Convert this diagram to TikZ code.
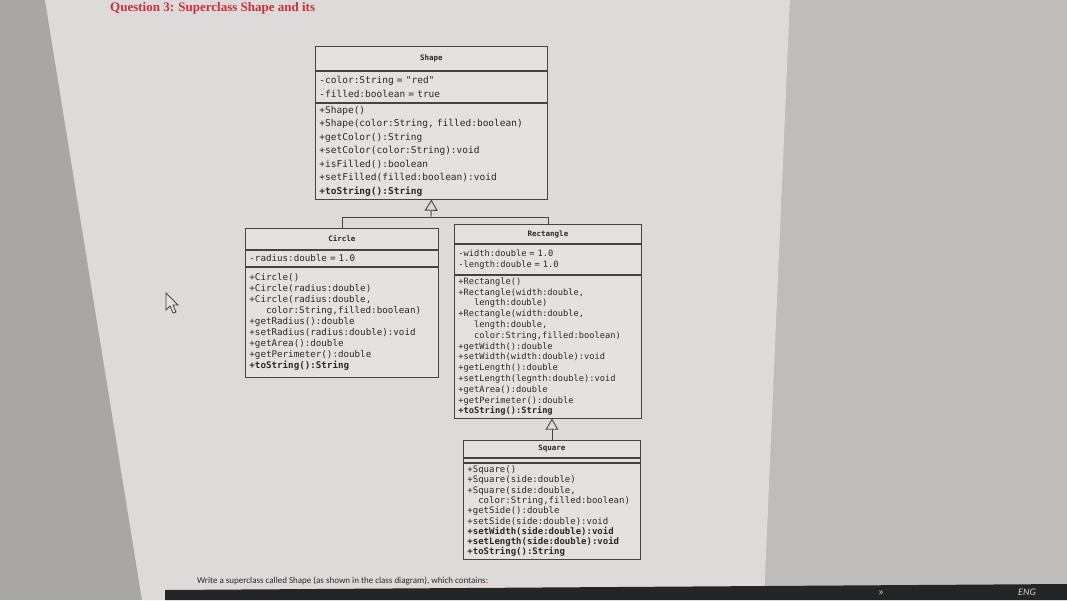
\documentclass[tikz,border=0pt]{standalone}
\usepackage{fontspec}
\setmainfont{Liberation Serif}
\newfontfamily\umlfont{DejaVu Sans Mono}
\newfontfamily\notefont{Carlito}
\usetikzlibrary{arrows.meta, positioning}

\definecolor{wallgray}{HTML}{A9A7A6}
\definecolor{pagegray}{HTML}{DEDAD9}
\definecolor{sidegray}{HTML}{BFBDBB}
\definecolor{barblack}{HTML}{232527}
\definecolor{umlline}{HTML}{454444}
\definecolor{umlfill}{HTML}{E4E1E0}
\definecolor{umltext}{HTML}{2A2828}
\definecolor{headred}{HTML}{C8303A}
\definecolor{bartext}{HTML}{CFCFCF}

% member fonts, one per class (the photo is slightly in perspective)
\newcommand{\shapefont}{\umlfont\fontsize{9.5}{13.5}\selectfont}
\newcommand{\circlefont}{\umlfont\fontsize{9.2}{11}\selectfont}
\newcommand{\rectfont}{\umlfont\fontsize{8.7}{10.8}\selectfont}
\newcommand{\squarefont}{\umlfont\fontsize{9}{10.3}\selectfont}

\tikzset{
  umlpart/.style={draw=umlline, fill=umlfill, line width=0.9pt, inner xsep=4pt, inner ysep=2pt, align=left, text=umltext},
  umltitle/.style={umlpart, align=center, font=\umlfont\bfseries\fontsize{7.5}{9}\selectfont},
  umlconn/.style={draw=umlline, line width=0.9pt},
  inherit/.style={umlconn, -{Triangle[open, length=11pt, width=13pt]}},
}

\begin{document}
\begin{tikzpicture}[x=1pt, y=-1pt]
\useasboundingbox (0,0) rectangle (1067,600);

% screen and page
\fill[wallgray] (0,0) rectangle (1067,600);
\fill[sidegray] (790,0) -- (1067,0) -- (1067,600) -- (762,600) -- cycle;
\fill[pagegray] (45,0) -- (790,0) -- (764,600) -- (142,600) -- cycle;

\node[anchor=base west, text=headred, font=\bfseries\fontsize{13}{15}\selectfont, inner sep=0pt] (heading) at (110,11) {Question 3: Superclass Shape and its};

% Shape
\node[umltitle, text width=224pt, minimum height=24pt, anchor=north west] (shape-title) at (315,46) {Shape};
\node[umlpart, text width=224pt, minimum height=31pt, below=0pt of shape-title, font=\shapefont] (shape-attr) {-color:String = "red"\\-filled:boolean = true};
\node[umlpart, text width=224pt, minimum height=96pt, below=0pt of shape-attr, font=\shapefont] (shape-ops) {+Shape()\\
+Shape(color:String, filled:boolean)\\
+getColor():String\\
+setColor(color:String):void\\
+isFilled():boolean\\
+setFilled(filled:boolean):void\\
\textbf{+toString():String}};

% Circle
\node[umltitle, text width=185pt, minimum height=21pt, anchor=north west] (circle-title) at (245,228) {Circle};
\node[umlpart, text width=185pt, minimum height=16pt, below=0pt of circle-title, font=\circlefont] (circle-attr) {-radius:double = 1.0};
\node[umlpart, text width=185pt, minimum height=110pt, below=0pt of circle-attr, font=\circlefont] (circle-ops) {+Circle()\\
+Circle(radius:double)\\
+Circle(radius:double,\\
\hspace*{1.8em}color:String,filled:boolean)\\
+getRadius():double\\
+setRadius(radius:double):void\\
+getArea():double\\
+getPerimeter():double\\
\textbf{+toString():String}};

% Rectangle
\node[umltitle, text width=179pt, minimum height=19pt, anchor=north west] (rect-title) at (454,224) {Rectangle};
\node[umlpart, text width=179pt, minimum height=30pt, below=0pt of rect-title, font=\rectfont] (rect-attr) {-width:double = 1.0\\-length:double = 1.0};
\node[umlpart, text width=179pt, minimum height=143pt, below=0pt of rect-attr, font=\rectfont] (rect-ops) {+Rectangle()\\
+Rectangle(width:double,\\
\hspace*{1.8em}length:double)\\
+Rectangle(width:double,\\
\hspace*{1.8em}length:double,\\
\hspace*{1.8em}color:String,filled:boolean)\\
+getWidth():double\\
+setWidth(width:double):void\\
+getLength():double\\
+setLength(legnth:double):void\\
+getArea():double\\
+getPerimeter():double\\
\textbf{+toString():String}};

% Square
\node[umltitle, text width=169pt, minimum height=17pt, anchor=north west] (square-title) at (463,440) {Square};
\node[umlpart, text width=169pt, minimum height=4pt, inner ysep=0pt, text height=0pt, text depth=0pt, below=0pt of square-title] (square-attr) {};
\node[umlpart, text width=169pt, minimum height=96pt, below=0pt of square-attr, font=\squarefont] (square-ops) {+Square()\\
+Square(side:double)\\
+Square(side:double,\\
\hspace*{1.2em}color:String,filled:boolean)\\
+getSide():double\\
+setSide(side:double):void\\
\textbf{+setWidth(side:double):void}\\
\textbf{+setLength(side:double):void}\\
\textbf{+toString():String}};

% inheritance
\coordinate (joint) at (431,217);
\draw[inherit] (joint) -- (shape-ops.south);
\draw[umlconn] (circle-title.north) |- (joint);
\draw[umlconn] (rect-title.north) |- (joint);
\draw[inherit] (square-title.north) -- (square-title.north |- rect-ops.south);

% mouse pointer
\draw[umlline, fill=umlfill, line width=0.8pt, shift={(166,293)}] (0,0) -- (0,17) -- (4,13) -- (7,20) -- (10,19) -- (7,12) -- (12,12) -- cycle;

\node[anchor=base west, font=\notefont\fontsize{9}{10}\selectfont, text=umltext, inner sep=0pt] (note) at (197,583) {Write a superclass called Shape (as shown in the class diagram), which contains:};

% taskbar
\fill[barblack] (165,590) -- (1067,584) -- (1067,600) -- (165,600) -- cycle;
\node[font=\notefont\fontsize{11}{11}\selectfont, text=bartext, inner sep=0pt] (more) at (881,593) {»};
\node[font=\notefont\itshape\fontsize{10}{10}\selectfont, text=bartext, inner sep=0pt] (lang) at (1027,592) {ENG};
\end{tikzpicture}
\end{document}
